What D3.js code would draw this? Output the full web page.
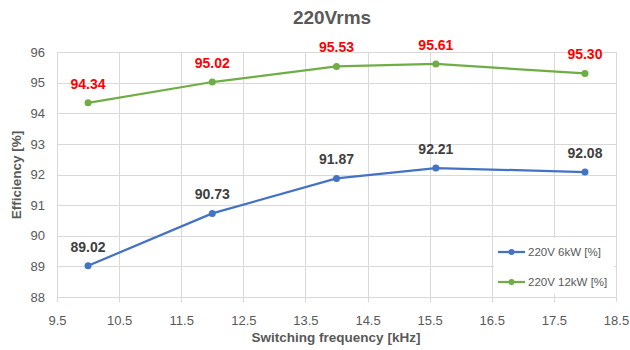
<!DOCTYPE html>
<html lang="en">
<head>
<meta charset="UTF-8">
<title>220Vrms</title>
<script src="https://cdn.jsdelivr.net/npm/d3@7"></script>
<style>
  body { margin: 0; background: #fff; }
  svg text { font-family: "Liberation Sans", Arial, sans-serif; }
  .grid line { stroke: #d9d9d9; stroke-width: 1; }
  .tick text { fill: #595959; font-size: 13px; }
</style>
</head>
<body>
<svg width="630" height="350"></svg>
<script>
// data
var freq = [10, 12, 14, 15.6, 18];
var eff6kW = [89.02, 90.73, 91.87, 92.21, 92.08];
var eff12kW = [94.34, 95.02, 95.53, 95.61, 95.30];
var xTicks = [9.5, 10.5, 11.5, 12.5, 13.5, 14.5, 15.5, 16.5, 17.5, 18.5];
var yTicks = [88, 89, 90, 91, 92, 93, 94, 95, 96];
var seriesNames = ["220V 6kW [%]", "220V 12kW [%]"];

var svg = d3.select("svg");
var plotL = 57, plotR = 616, plotT = 52, plotB = 297;

var x = d3.scaleLinear().domain([9.5, 18.5]).range([plotL, plotR]);
var y = d3.scaleLinear().domain([88, 96]).range([plotB, plotT]);

// gridlines
var grid = svg.append("g").attr("class", "grid");
grid.selectAll("line.h").data(yTicks).enter().append("line")
    .attr("class", "h")
    .attr("x1", plotL).attr("x2", plotR)
    .attr("y1", function(d) { return Math.round(y(d)) + 0.5; })
    .attr("y2", function(d) { return Math.round(y(d)) + 0.5; });
grid.selectAll("line.v").data(xTicks).enter().append("line")
    .attr("class", "v")
    .attr("y1", plotT).attr("y2", plotB + 5)
    .attr("x1", function(d) { return Math.round(x(d)) + 0.5; })
    .attr("x2", function(d) { return Math.round(x(d)) + 0.5; });

// axes (labels only, lines come from grid)
var xAxis = svg.append("g").attr("transform", "translate(0," + plotB + ")")
  .call(d3.axisBottom(x).tickValues(xTicks).tickSize(0).tickPadding(19).tickFormat(d3.format("")));
var yAxis = svg.append("g").attr("transform", "translate(" + plotL + ",0)")
  .call(d3.axisLeft(y).tickValues(yTicks).tickSize(0).tickPadding(12));
xAxis.select(".domain").remove();
yAxis.select(".domain").remove();
xAxis.attr("font-family", null);
yAxis.attr("font-family", null);

// title and axis titles
svg.append("text").attr("x", 332).attr("y", 24).attr("text-anchor", "middle")
  .attr("font-size", 19).attr("font-weight", "bold").attr("fill", "#595959").text("220Vrms");
svg.append("text").attr("x", 336).attr("y", 342).attr("text-anchor", "middle")
  .attr("font-size", 13.5).attr("font-weight", "bold").attr("fill", "#595959").text("Switching frequency [kHz]");
svg.append("text").attr("transform", "translate(21,175) rotate(-90)").attr("text-anchor", "middle")
  .attr("font-size", 13.5).attr("font-weight", "bold").attr("fill", "#595959").text("Efficiency [%]");

var series = [
  { name: seriesNames[0], values: eff6kW, color: "#4472c4", label: "#404040" },
  { name: seriesNames[1], values: eff12kW, color: "#70ad47", label: "#ff0000" }
];

var line = d3.line()
  .x(function(d, i) { return x(freq[i]); })
  .y(function(d) { return y(d); });

series.forEach(function(s) {
  svg.append("path").datum(s.values)
    .attr("fill", "none").attr("stroke", s.color).attr("stroke-width", 2.25)
    .attr("d", line);
  svg.selectAll(null).data(s.values).enter().append("circle")
    .attr("cx", function(d, i) { return x(freq[i]); })
    .attr("cy", function(d) { return y(d); })
    .attr("r", 3.5).attr("fill", s.color);
  svg.selectAll(null).data(s.values).enter().append("text")
    .attr("x", function(d, i) { return x(freq[i]); })
    .attr("y", function(d) { return y(d) - 14; })
    .attr("text-anchor", "middle").attr("font-size", 14).attr("font-weight", "bold")
    .attr("fill", s.label)
    .text(function(d) { return d.toFixed(2); });
});

// legend
var legend = svg.append("g");
legend.append("rect").attr("x", 494).attr("y", 238).attr("width", 120).attr("height", 56).attr("fill", "#fff");
series.forEach(function(s, i) {
  var ly = 252 + i * 30;
  legend.append("line").attr("x1", 498).attr("x2", 525).attr("y1", ly).attr("y2", ly)
    .attr("stroke", s.color).attr("stroke-width", 2.25);
  legend.append("circle").attr("cx", 511.5).attr("cy", ly).attr("r", 3).attr("fill", s.color);
  legend.append("text").attr("x", 528).attr("y", ly + 4).attr("font-size", 11.5).attr("fill", "#595959").text(s.name);
});
</script>
</body>
</html>
